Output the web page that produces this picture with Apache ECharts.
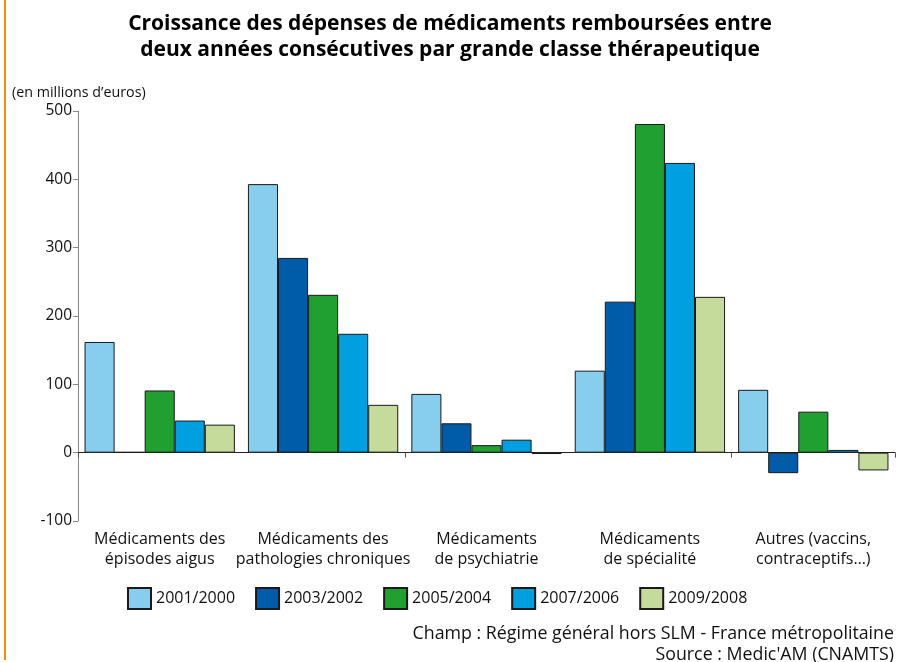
<!DOCTYPE html>
<html><head><meta charset="utf-8">
<script src="https://cdn.jsdelivr.net/npm/echarts@6/dist/echarts.min.js"></script>
<style>html,body{margin:0;padding:0;background:#fff}#c{width:898px;height:662px}</style>
</head><body><div id="c"></div>
<script>
var categories = ["Médicaments des\népisodes aigus", "Médicaments des\npathologies chroniques", "Médicaments\nde psychiatrie", "Médicaments\nde spécialité", "Autres (vaccins,\ncontraceptifs…)"];
var seriesNames = ["2001/2000", "2003/2002", "2005/2004", "2007/2006", "2009/2008"];
var s2001 = [162, 393, 86, 120, 92];
var s2003 = [1, 285, 43, 221, -30];
var s2005 = [91, 231, 11, 481, 60];
var s2007 = [47, 174, 19, 424, 4];
var s2009 = [41, 70, -2, 228, -26];
var yTicks = [-100, 0, 100, 200, 300, 400, 500];
var colors = ["#87CEEE", "#005BA8", "#20A030", "#009FDF", "#C5DB9B"];
var font = "Open Sans";
var values = [s2001, s2003, s2005, s2007, s2009];
var chart = echarts.init(document.getElementById('c'));
chart.setOption({
  animation: false,
  textStyle: {fontFamily: font},
  graphic: [{type: 'rect', shape: {x: 4, y: 0, width: 2, height: 660}, style: {fill: '#F39200'}}],
  title: [
    {text: "Croissance des dépenses de médicaments remboursées entre\ndeux années consécutives par grande classe thérapeutique", left: 445, top: 6, textAlign: 'center',
     textStyle: {fontFamily: font, fontWeight: 'bold', fontSize: 21, lineHeight: 26, color: '#000'}},
    {text: "(en millions d’euros)", left: 7, top: 81, textStyle: {fontFamily: font, fontWeight: 'normal', fontSize: 14.3, color: '#111'}},
    {text: "Champ : Régime général hors SLM - France métropolitaine", left: 889, top: 620, textAlign: 'right',
     textStyle: {fontFamily: font, fontWeight: 'normal', fontSize: 17.8, color: '#111'}},
    {text: "Source : Medic'AM (CNAMTS)", left: 889, top: 641, textAlign: 'right',
     textStyle: {fontFamily: font, fontWeight: 'normal', fontSize: 17.8, color: '#111'}}
  ],
  legend: {data: seriesNames, left: 122, top: 582, icon: 'rect', itemWidth: 23, itemHeight: 21, itemGap: 20,
    textStyle: {fontFamily: font, fontSize: 16, color: '#111'}},
  grid: {left: 78, right: 3, top: 111, bottom: 141},
  xAxis: [
    {type: 'category', data: categories, axisLine: {onZero: true, lineStyle: {color: '#222'}},
     axisTick: {show: true, length: 5, lineStyle: {color: '#555'}}, axisLabel: {show: false}},
    {type: 'category', data: categories, position: 'bottom', axisLine: {show: false, onZero: false}, axisTick: {show: false},
     axisLabel: {interval: 0, fontFamily: font, fontSize: 16, color: '#111', lineHeight: 20, margin: 8}}
  ],
  yAxis: {type: 'value', min: yTicks[0], max: yTicks[yTicks.length - 1], interval: 100,
    axisLine: {show: true, lineStyle: {color: '#888'}}, axisTick: {show: true, length: 5, lineStyle: {color: '#888'}},
    splitLine: {show: false}, axisLabel: {fontFamily: font, fontSize: 15.5, color: '#111', margin: 6}},
  series: seriesNames.map(function (n, i) {
    return {name: n, type: 'bar', xAxisIndex: 0, data: values[i], barGap: '0%', barCategoryGap: '8%',
      itemStyle: {color: colors[i], borderColor: '#1a1a1a', borderWidth: 1}};
  })
});
</script></body></html>
